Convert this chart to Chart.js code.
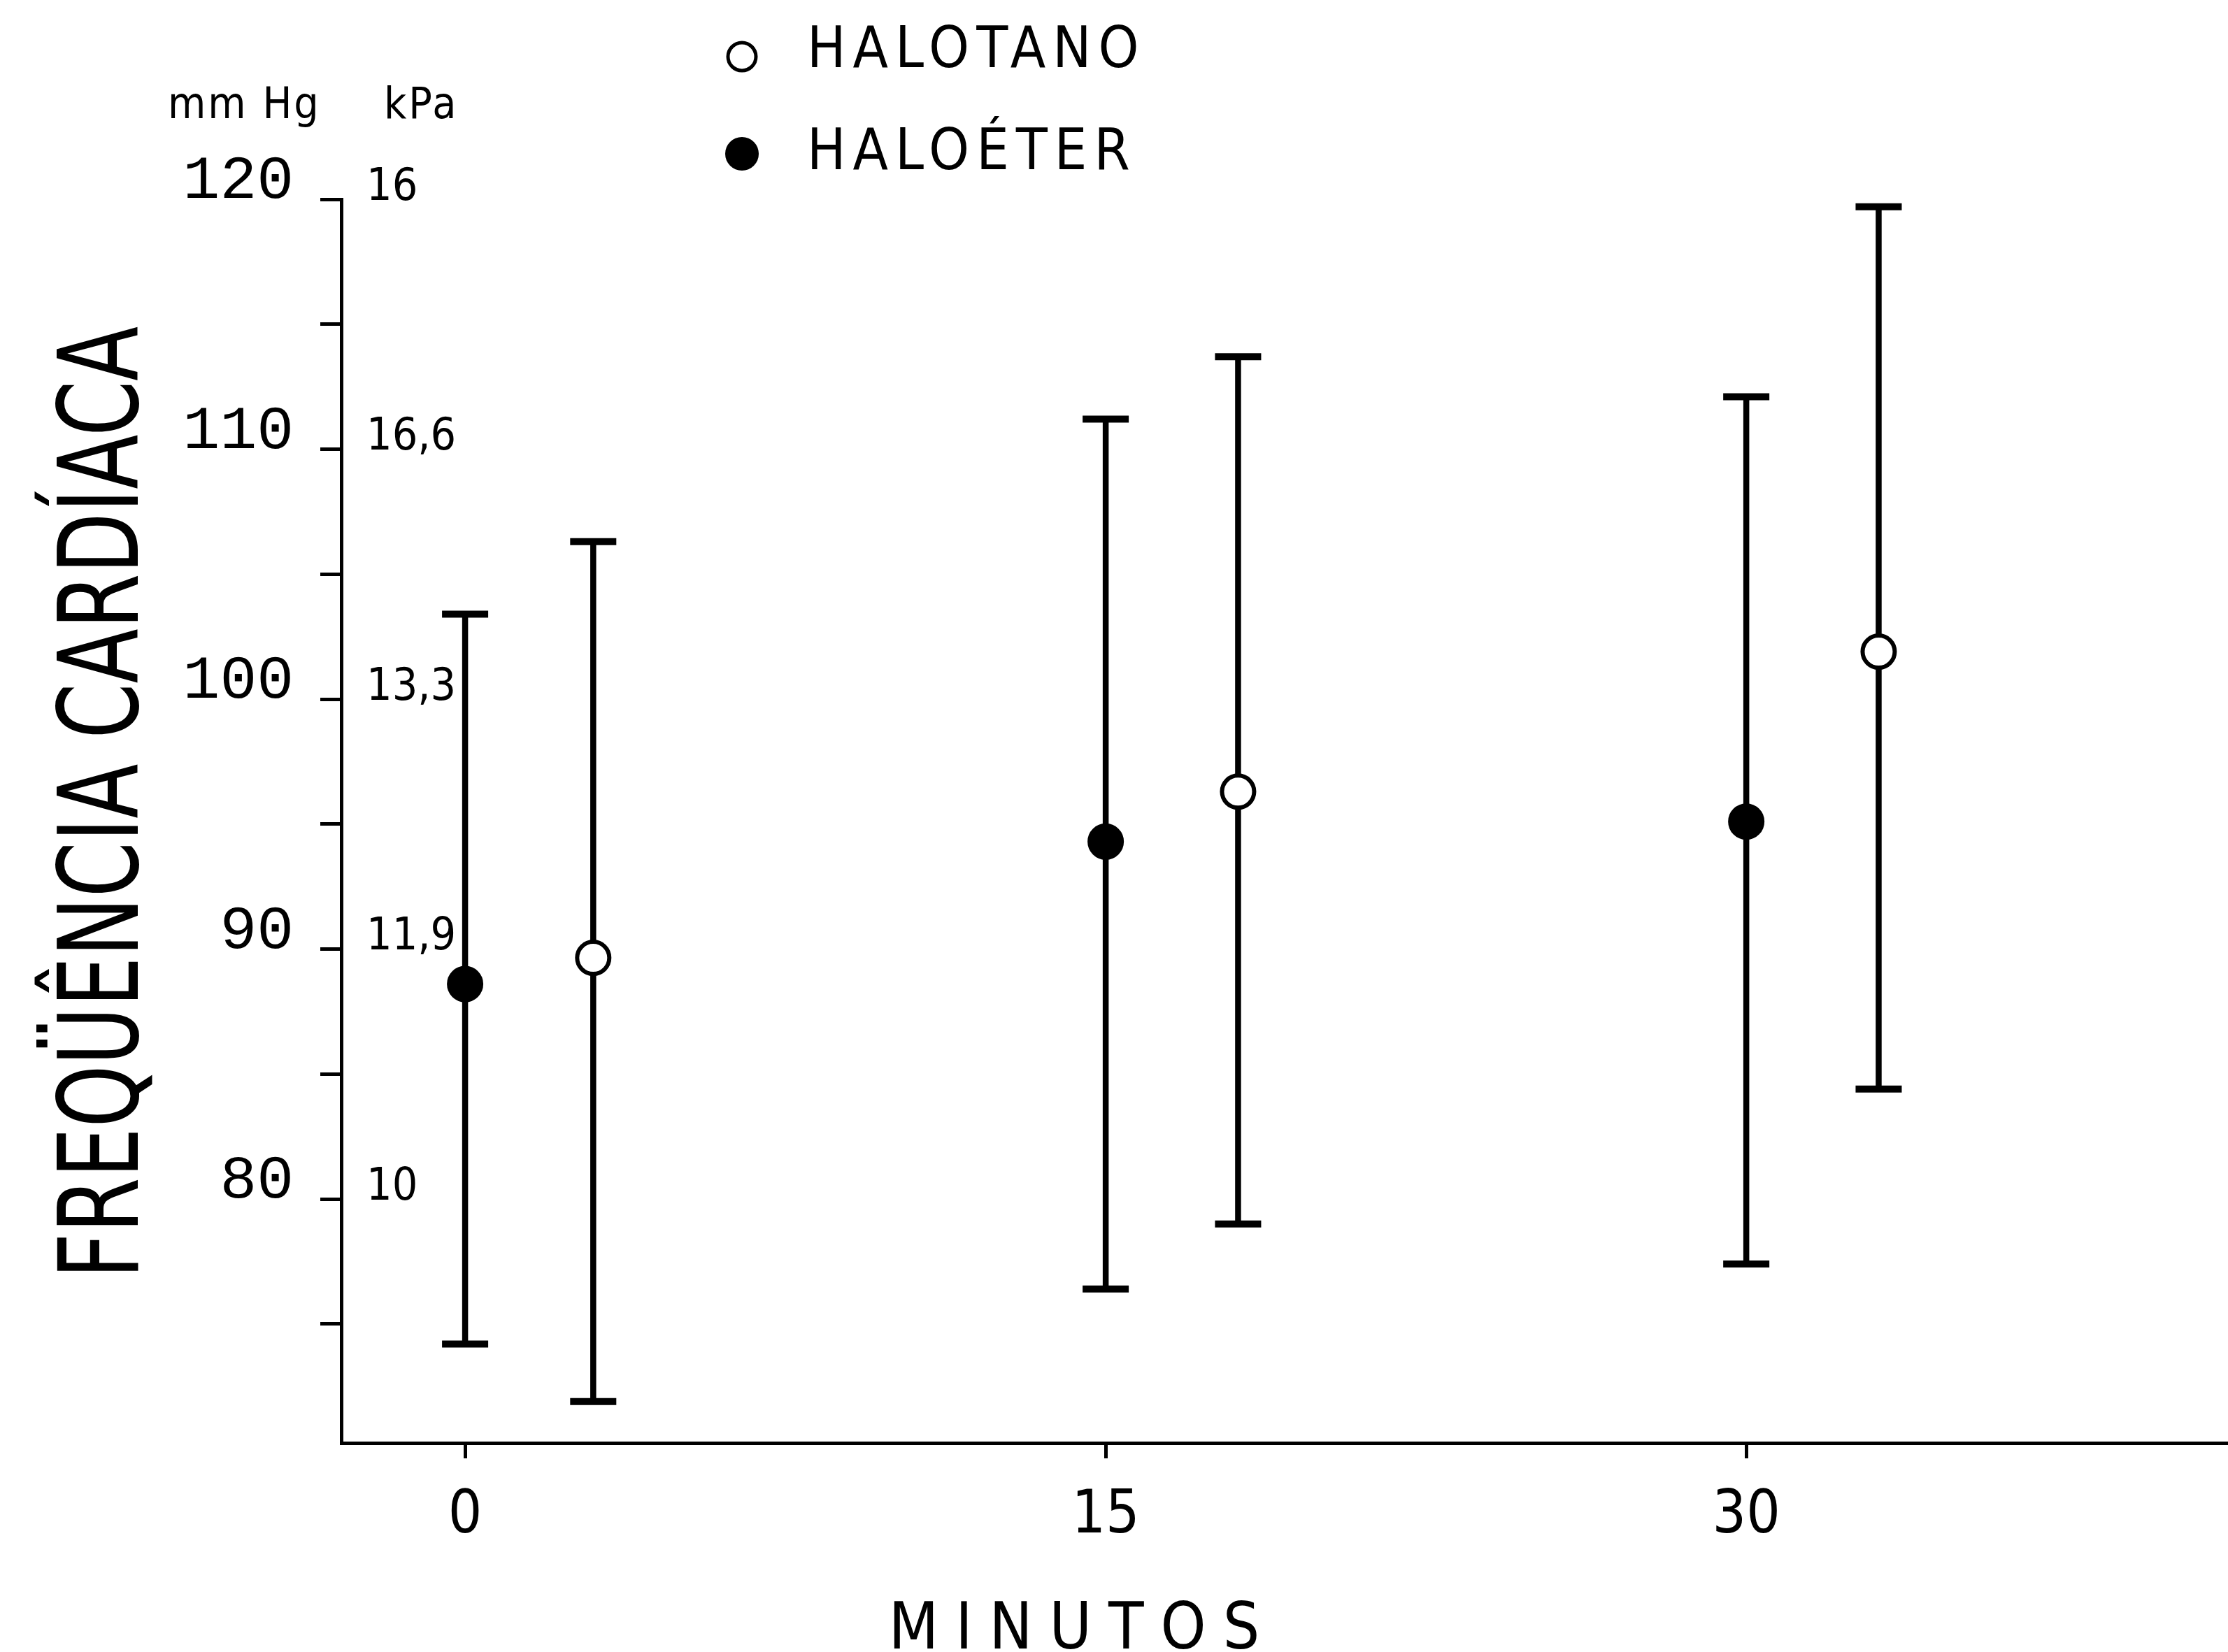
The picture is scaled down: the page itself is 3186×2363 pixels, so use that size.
<!DOCTYPE html>
<html>
<head>
<meta charset="utf-8">
<script src="https://cdn.jsdelivr.net/npm/chart.js@4.4.1/dist/chart.umd.min.js"></script>
<style>
  html, body { margin: 0; padding: 0; background: #fff; overflow: hidden; }
  #wrap { width: 3186px; height: 2363px; }
  canvas { display: block; }
</style>
</head>
<body>
<div id="wrap"><canvas id="chart"></canvas></div>
<script>
//================================ Data ================================
var seriesNames = ['HALOTANO', 'HALOÉTER'];

// minutes (open circles sit a little to the right of each time point)
var minutesHalotano = [3, 18.1, 33.1];
var minutesHaloeter = [0, 15, 30];

// heart rate, mean and error bar ends
var meanHalotano = [89.65, 96.3, 101.9];
var lowHalotano = [71.9, 79.0, 84.4];
var highHalotano = [106.3, 113.7, 119.7];

var meanHaloeter = [88.6, 94.3, 95.1];
var lowHaloeter = [74.2, 76.4, 77.4];
var highHaloeter = [103.4, 111.2, 112.1];

// axes
var xTicks = [0, 15, 30];
var yTicks = [75, 80, 85, 90, 95, 100, 105, 110, 115, 120];
var mmHgLabels = [80, 90, 100, 110, 120];
var kPaLabels = ['10', '11,9', '13,3', '16,6', '16'];
var yTitle = 'FREQÜÊNCIA CARDÍACA';
var xTitle = 'MINUTOS';

var narrow = '"Liberation Sans Narrow", "DejaVu Sans Condensed", "Liberation Sans", sans-serif';
var mono = '"Liberation Mono", "DejaVu Sans Mono", monospace';

function toPoints(xs, ys, lo, hi) {
    return xs.map(function(v, i) {
        return { x: v, y: ys[i], lo: lo[i], hi: hi[i] };
    });
}

//================================ Error bars (under the markers) ================================
var errorBars = {
    id: 'errorBars',
    beforeDatasetsDraw: function(chart) {
        var ctx = chart.ctx;
        var xs = chart.scales.x, ys = chart.scales.y;
        ctx.save();
        ctx.strokeStyle = '#000';
        chart.data.datasets.forEach(function(ds) {
            ds.data.forEach(function(p) {
                var px = xs.getPixelForValue(p.x);
                var top = ys.getPixelForValue(p.hi);
                var bot = ys.getPixelForValue(p.lo);
                ctx.lineWidth = 8.5;
                ctx.beginPath();
                ctx.moveTo(px, top);
                ctx.lineTo(px, bot);
                ctx.stroke();
                ctx.lineWidth = 10;
                ctx.beginPath();
                ctx.moveTo(px - 33, top);
                ctx.lineTo(px + 33, top);
                ctx.moveTo(px - 33, bot);
                ctx.lineTo(px + 33, bot);
                ctx.stroke();
            });
        });
        ctx.restore();
    }
};

//================================ Extra texts: legend, units, kPa, titles ================================
var extraTexts = {
    id: 'extraTexts',
    afterDraw: function(chart) {
        var ctx = chart.ctx;
        var ys = chart.scales.y;
        ctx.save();
        ctx.fillStyle = '#000';
        ctx.strokeStyle = '#000';

        // legend
        ctx.beginPath();
        ctx.arc(1061, 81, 20, 0, Math.PI * 2);
        ctx.fillStyle = '#fff';
        ctx.fill();
        ctx.lineWidth = 5;
        ctx.stroke();
        ctx.beginPath();
        ctx.arc(1061, 220, 24, 0, Math.PI * 2);
        ctx.fillStyle = '#000';
        ctx.fill();

        ctx.font = '82px ' + narrow;
        ctx.textAlign = 'left';
        ctx.textBaseline = 'alphabetic';
        ctx.letterSpacing = '10px';
        ctx.fillText(seriesNames[0], 1154, 96);
        ctx.fillText(seriesNames[1], 1154, 242);

        // unit headers
        ctx.letterSpacing = '3px';
        ctx.font = '62px ' + narrow;
        ctx.fillText('mm Hg', 240, 169);
        ctx.fillText('kPa', 549, 169);

        // kPa labels to the right of the axis
        ctx.letterSpacing = '0px';
        ctx.font = '64px ' + narrow;
        ctx.textBaseline = 'middle';
        mmHgLabels.forEach(function(v, i) {
            ctx.fillText(kPaLabels[i], 524, ys.getPixelForValue(v) - 16);
        });

        // x title
        ctx.font = '92px ' + narrow;
        ctx.textAlign = 'center';
        ctx.textBaseline = 'alphabetic';
        ctx.letterSpacing = '24px';
        ctx.fillText(xTitle, 1548, 2358);

        // y title, condensed to the length it has in the figure
        ctx.letterSpacing = '0px';
        ctx.font = '158px ' + narrow;
        var w = ctx.measureText(yTitle).width;
        ctx.translate(197, 1148);
        ctx.rotate(-Math.PI / 2);
        ctx.scale(1362 / w, 1);
        ctx.textAlign = 'center';
        ctx.textBaseline = 'alphabetic';
        ctx.fillText(yTitle, 0, 0);
        ctx.restore();
    }
};

var ctx = document.getElementById('chart').getContext('2d');
var chart = new Chart(ctx, {
    type: 'scatter',
    data: {
        datasets: [{
            label: seriesNames[0],
            data: toPoints(minutesHalotano, meanHalotano, lowHalotano, highHalotano),
            pointStyle: 'circle',
            pointRadius: 23,
            pointBackgroundColor: '#fff',
            pointBorderColor: '#000',
            pointBorderWidth: 6
        }, {
            label: seriesNames[1],
            data: toPoints(minutesHaloeter, meanHaloeter, lowHaloeter, highHaloeter),
            pointStyle: 'circle',
            pointRadius: 25,
            pointBackgroundColor: '#000',
            pointBorderColor: '#000',
            pointBorderWidth: 2
        }]
    },
    options: {
        responsive: true,
        maintainAspectRatio: false,
        animation: false,
        layout: { autoPadding: false, padding: { top: 285, left: 0, right: 0, bottom: 0 } },
        plugins: {
            legend: { display: false },
            tooltip: { enabled: false }
        },
        scales: {
            x: {
                type: 'linear',
                min: -2.9,
                max: 41.28,
                afterBuildTicks: function(scale) {
                    scale.ticks = xTicks.map(function(v) { return { value: v }; });
                },
                afterFit: function(scale) { scale.height = 299; },
                grid: { drawOnChartArea: false, drawTicks: true, tickLength: 22, tickWidth: 5, tickColor: '#000' },
                border: { display: true, color: '#000', width: 5 },
                ticks: {
                    color: '#000',
                    padding: 33,
                    maxRotation: 0,
                    font: { family: narrow, size: 85 },
                    callback: function(v) { return String(v); }
                }
            },
            y: {
                type: 'linear',
                min: 70.24,
                max: 120,
                afterBuildTicks: function(scale) {
                    scale.ticks = yTicks.map(function(v) { return { value: v }; });
                },
                afterFit: function(scale) { scale.width = 488; },
                grid: { drawOnChartArea: false, drawTicks: true, tickLength: 30, tickWidth: 5, tickColor: '#000' },
                border: { display: true, color: '#000', width: 5 },
                ticks: {
                    color: '#000',
                    padding: 38,
                    labelOffset: -25,
                    font: { family: mono, size: 88 },
                    callback: function(v) { return mmHgLabels.indexOf(v) >= 0 ? String(v) : ''; }
                }
            }
        }
    },
    plugins: [errorBars, extraTexts]
});
</script>
</body>
</html>
